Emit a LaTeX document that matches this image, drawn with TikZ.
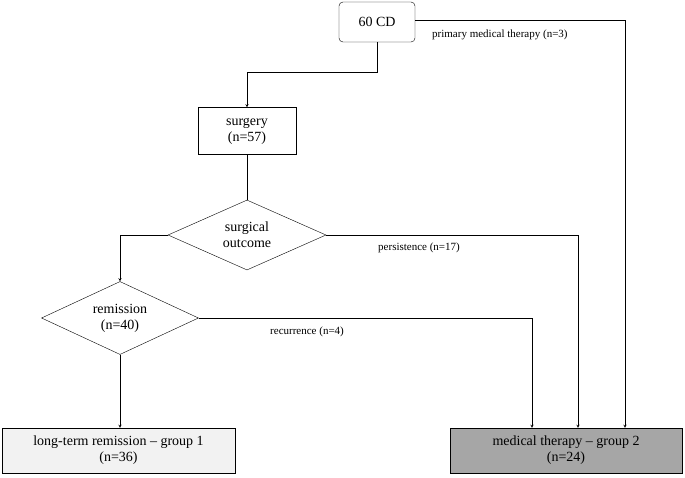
\documentclass[tikz,border=0pt]{standalone}
\usepackage{fontspec}
\setmainfont{Liberation Serif}
\usetikzlibrary{positioning,arrows,shapes.geometric}
\tikzset{
	box/.style={draw=black, align=center, inner sep=0pt, font=\fontsize{14}{16}\selectfont},
	decision/.style={draw=black, diamond, aspect=2.2, align=center, inner sep=0pt, font=\fontsize{14}{16}\selectfont},
	flow/.style={draw=black, -{stealth}},
	lbl/.style={font=\fontsize{11}{13}\selectfont, inner sep=0pt}
}
\begin{document}
\begin{tikzpicture}[x=1pt,y=-1pt]
			\useasboundingbox (0,0) rectangle (685,477);
			\node[box, rounded corners=4pt, minimum width=76pt, minimum height=40pt] (cd) at (377,22) {60 CD};
			\node[box, minimum width=98pt, minimum height=47pt] (surg) at (247,131) {surgery\\(n=57)};
			\node[decision, minimum width=158pt, minimum height=70pt] (outc) at (247,235) {surgical\\outcome};
			\node[decision, minimum width=157pt, minimum height=73pt] (rem) at (120,318) {remission\\(n=40)};
			\node[box, fill=black!5, minimum width=233pt, minimum height=45pt] (grp1) at (118.5,450.5) {long-term remission -- group 1\\(n=36)};
			\node[box, fill=black!35, minimum width=232pt, minimum height=45pt] (grp2) at (566,450.5) {medical therapy -- group 2\\(n=24)};

			\coordinate (t1) at (625,20); \coordinate (t2) at (377,72); \coordinate (t3) at (247,72);
			\coordinate (p1) at (578,235); \coordinate (r1) at (532,318); \coordinate (o1) at (120,235);

			\draw[flow] (cd.east |- t1) -- (t1) -- (t1 |- grp2.north);
			\draw[flow] (cd.south) -- (t2) -- (t3) -- (surg.north);
			\draw (surg.south) -- (outc.north);
			\draw[flow] (outc.west) -- (o1) -- (rem.north);
			\draw[flow] (outc.east) -- (p1) -- (p1 |- grp2.north);
			\draw[flow] (rem.east) -- (r1) -- (r1 |- grp2.north);
			\draw[flow] (rem.south) -- (grp1.north -| rem.south);

			\node[lbl, anchor=west] at (432,35) {primary medical therapy (n=3)};
			\node[lbl, anchor=west] at (378,248) {persistence (n=17)};
			\node[lbl, anchor=west] at (270,332) {recurrence (n=4)};
		\end{tikzpicture}
\end{document}
